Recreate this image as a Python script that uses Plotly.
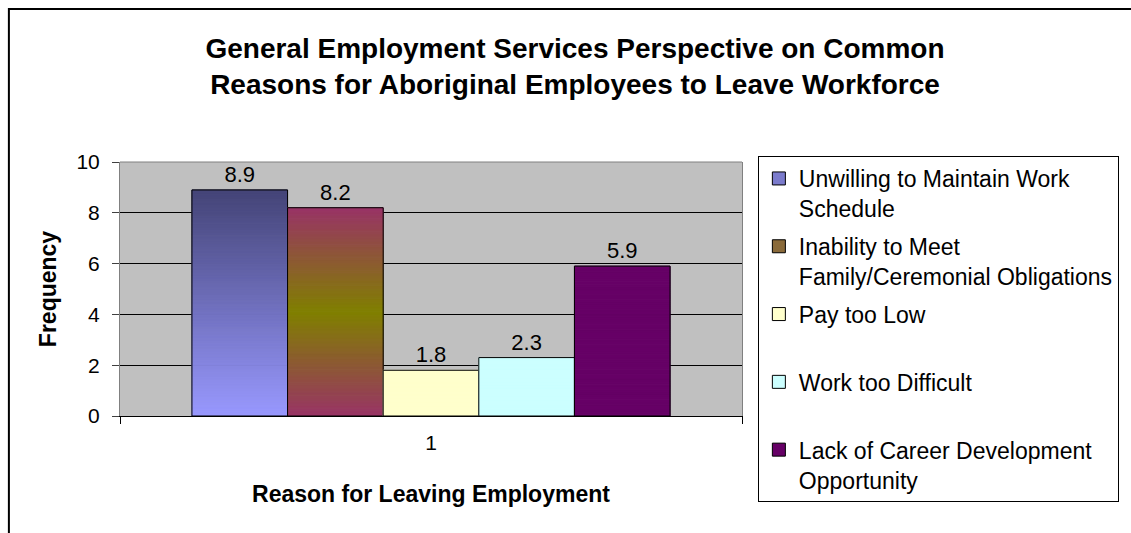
import plotly.graph_objects as go

# ---------------- data ----------------
categories = ["1"]
series_names = [
    "Unwilling to Maintain Work<br>Schedule",
    "Inability to Meet<br>Family/Ceremonial Obligations",
    "Pay too Low<br> ",
    "Work too Difficult<br> ",
    "Lack of Career Development<br>Opportunity",
]
values = [8.9, 8.2, 1.8, 2.3, 5.9]
y_ticks = [0, 2, 4, 6, 8, 10]

# ---------------- style ----------------
FONT = "Liberation Sans, Arial, sans-serif"
# gradient stops: position measured from top (0) to bottom (1) of each bar
gradient_stops = [
    [(0.0, "#444477"), (1.0, "#9999FF")],
    [(0.0, "#993366"), (0.5, "#808000"), (1.0, "#993366")],
    [(0.0, "#FFFFCC"), (1.0, "#FFFFCC")],
    [(0.0, "#CCFFFF"), (1.0, "#CCFFFF")],
    [(0.0, "#660066"), (1.0, "#660066")],
]
legend_colors = ["#7B7BCC", "#8A6A3A", "#FFFFCC", "#CCFFFF", "#660066"]
N_SEG = 80


def hex2rgb(h):
    h = h.lstrip("#")
    return tuple(int(h[i:i + 2], 16) for i in (0, 2, 4))


def color_at(stops, t):
    for (p0, c0), (p1, c1) in zip(stops[:-1], stops[1:]):
        if p0 <= t <= p1:
            f = 0 if p1 == p0 else (t - p0) / (p1 - p0)
            a, b = hex2rgb(c0), hex2rgb(c1)
            r = [round(a[k] + (b[k] - a[k]) * f) for k in range(3)]
            return "rgb(%d,%d,%d)" % tuple(r)
    return stops[-1][1]


fig = go.Figure()

for i, (name, v) in enumerate(zip(series_names, values)):
    grp = "s%d" % i
    seg_h = v / N_SEG
    seg_colors = [color_at(gradient_stops[i], 1 - (k + 0.5) / N_SEG) for k in range(N_SEG)]
    # gradient body
    fig.add_trace(go.Bar(
        x=categories * N_SEG,
        y=[seg_h] * N_SEG,
        base=[seg_h * k for k in range(N_SEG)],
        marker=dict(color=seg_colors, line=dict(width=1, color=seg_colors)),
        offsetgroup=grp, alignmentgroup="a",
        legendgroup=grp, showlegend=False, hoverinfo="skip",
    ))
    # outline + value label
    fig.add_trace(go.Bar(
        x=categories, y=[v],
        marker=dict(color="rgba(0,0,0,0)", line=dict(color="black", width=1)),
        text=[str(v)], textposition="outside", cliponaxis=False,
        textfont=dict(family=FONT, size=22, color="black"),
        offsetgroup=grp, alignmentgroup="a",
        legendgroup=grp, showlegend=False, name=name,
    ))
    # legend entry
    fig.add_trace(go.Scatter(
        x=[None], y=[None], mode="markers", name=name,
        marker=dict(symbol="square", size=13, color=legend_colors[i],
                    line=dict(color="black", width=1)),
        legendgroup=grp, showlegend=True,
    ))

# plot-area top border (gray)
fig.add_shape(type="line", xref="paper", yref="paper", x0=0, x1=1, y0=1, y1=1,
              line=dict(color="#808080", width=1), layer="above")
# outer chart frame
fig.add_shape(type="rect", xref="paper", yref="paper",
              x0=-112 / 627, x1=1030 / 627, y0=-140 / 254, y1=407 / 254,
              line=dict(color="black", width=2), fillcolor="rgba(0,0,0,0)", layer="above")

fig.update_layout(
    width=1131, height=533,
    margin=dict(l=120, r=384, t=162, b=117),
    paper_bgcolor="white", plot_bgcolor="#C0C0C0",
    barmode="group", bargap=0.2313, bargroupgap=0,
    font=dict(family=FONT, color="black"),
    title=dict(
        text="<b>General Employment Services Perspective on Common<br>Reasons for Aboriginal Employees to Leave Workforce</b>",
        font=dict(family=FONT, size=28, color="black"),
        x=575 / 1131, xanchor="center", xref="container",
        y=1 - 58 / 533, yanchor="top", yref="container",
    ),
    xaxis=dict(
        type="category", showline=True, linecolor="black", linewidth=1,
        ticks="outside", tickson="boundaries", ticklen=7, tickcolor="black",
        tickfont=dict(family=FONT, size=21, color="black"),
        ticklabelstandoff=8,
        showgrid=False, zeroline=False,
        title=dict(text="<b>Reason for Leaving Employment</b>",
                   font=dict(family=FONT, size=23, color="black"), standoff=32),
    ),
    yaxis=dict(
        range=[0, 10], tickvals=y_ticks,
        showline=True, linecolor="#808080", linewidth=1, mirror=True,
        ticks="outside", ticklen=7, tickcolor="#404040",
        tickfont=dict(family=FONT, size=21, color="black"),
        ticklabelstandoff=8,
        showgrid=True, gridcolor="black", gridwidth=1, zeroline=False,
        title=dict(text="<b>Frequency</b>",
                   font=dict(family=FONT, size=23, color="black"), standoff=13),
    ),
    legend=dict(
        x=(763 - 120) / 627, y=(416 - 156) / 254, xanchor="left", yanchor="top",
        xref="paper", yref="paper", maxheight=600,
        bgcolor="white", bordercolor="black", borderwidth=1,
        font=dict(family=FONT, size=23, color="black"),
        valign="top", tracegroupgap=5, itemclick=False, itemdoubleclick=False,
    ),
    showlegend=True,
)

fig.write_html("out.html")
